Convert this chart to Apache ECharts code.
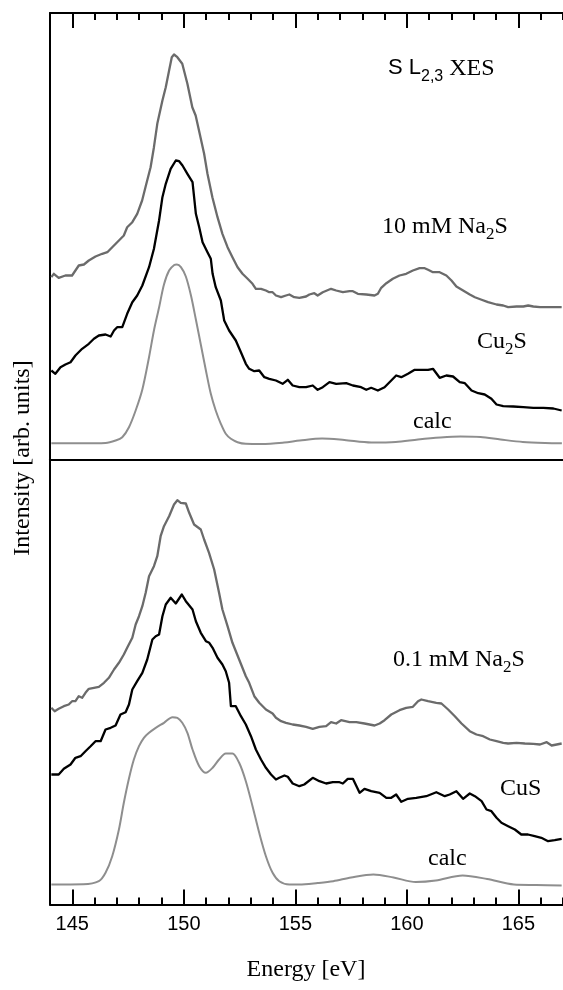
<!DOCTYPE html>
<html><head><meta charset="utf-8">
<script src="https://cdn.jsdelivr.net/npm/echarts@6/dist/echarts.min.js"></script>
<style>html,body{margin:0;padding:0;background:#fff}#c{width:563px;height:990px}</style>
</head><body><div id="c"></div>
<script>
// ---- axis definition ----
const xMin = 144, xMax = 167;
const majorTicks = [145, 150, 155, 160, 165];
const minorTicks = [144,145,146,147,148,149,150,151,152,153,154,155,156,157,158,159,160,161,162,163,164,165,166,167];

// ---- upper panel (arb. units) ----
const na10 = [[144.06,182.3],[144.17,185.7],[144.39,181.7],[144.69,184],[144.99,184],[145.29,194],[145.52,195],[145.74,199],[146.04,203],[146.34,205.7],[146.57,207.3],[146.79,212.3],[147.09,219],[147.31,224],[147.46,232.3],[147.69,237.3],[147.91,245.7],[148.13,259],[148.28,272.3],[148.51,292.3],[148.66,312.3],[148.81,335.7],[149.04,359],[149.19,372.3],[149.34,389],[149.46,402.3],[149.56,405],[149.71,402.3],[149.93,395.7],[150.16,375.7],[150.38,352.3],[150.53,344],[150.68,329],[150.91,305.7],[151.06,285.7],[151.28,262.3],[151.51,242.3],[151.73,225.7],[151.96,212.3],[152.18,202.3],[152.41,192.3],[152.63,185.7],[152.86,180.7],[153.08,175.7],[153.23,170.7],[153.46,170.7],[153.68,169],[153.83,167.3],[153.98,167.3],[154.13,164],[154.36,162.3],[154.58,164],[154.73,165],[154.95,162.3],[155.18,161.7],[155.48,163],[155.63,165],[155.85,166.3],[156.0,164],[156.23,167.3],[156.6,170.7],[156.83,169],[157.13,167.3],[157.43,168.3],[157.58,168.3],[157.8,165.7],[158.18,165],[158.55,164],[158.7,165.7],[158.85,171.7],[159.08,176.3],[159.37,180.7],[159.67,184],[159.97,185.7],[160.27,189],[160.57,191.3],[160.8,191.3],[160.95,189.7],[161.17,187.3],[161.47,187.3],[161.77,184],[162.0,179],[162.22,173],[162.52,169],[162.82,165],[163.05,162.3],[163.35,159.7],[163.64,157.3],[164.02,155],[164.32,154],[164.54,152.3],[164.92,153],[165.22,153],[165.44,154],[165.67,153],[165.97,152.3],[166.27,152.3],[166.57,152.3],[166.94,152.3]];
const cu2s = [[144.06,89],[144.24,85.7],[144.47,92.3],[144.69,95],[144.92,97.3],[145.14,104],[145.44,110.7],[145.74,115.7],[145.97,120.7],[146.19,124],[146.49,125],[146.72,123],[146.87,129],[147.01,132.3],[147.24,132.3],[147.46,145.7],[147.69,157.3],[147.91,164],[148.14,174],[148.44,192.3],[148.66,210.7],[148.89,239],[149.04,262.3],[149.19,275.7],[149.41,290.7],[149.64,299],[149.79,298.3],[149.94,294],[150.16,285.7],[150.39,277.3],[150.54,245.7],[150.69,232.3],[150.84,217.3],[151.06,207.3],[151.21,200.7],[151.29,185.7],[151.43,172.3],[151.66,159],[151.81,139],[152.03,129],[152.33,119],[152.56,107.3],[152.78,95.7],[152.93,90.7],[153.16,88.3],[153.38,89],[153.61,82.3],[153.83,80.7],[154.13,79],[154.43,75.7],[154.66,79.7],[154.88,74],[155.18,72.3],[155.48,72.3],[155.78,74],[156.0,69.7],[156.23,72.3],[156.53,77.3],[156.83,75.7],[157.28,76.3],[157.58,74],[157.95,72.3],[158.18,69.7],[158.4,71.7],[158.7,69],[159.0,72.3],[159.3,79],[159.52,84],[159.75,82.3],[160.05,85.7],[160.35,89.7],[160.65,89.7],[160.95,89.7],[161.17,90.7],[161.47,81.7],[161.77,84],[162.07,83],[162.37,77.3],[162.6,76.3],[162.9,69],[163.2,66.3],[163.49,65],[163.79,60.7],[164.02,55],[164.32,53.3],[164.77,53],[165.22,52.3],[165.67,51.7],[166.12,51.7],[166.57,51],[166.94,49]];
const calcCu2s = [[144.06,16.3],[146.0,16.3],[146.49,16.5],[146.94,19],[147.24,22.3],[147.54,32.3],[147.84,49],[148.14,70],[148.44,102.3],[148.66,129],[148.89,152],[149.11,175],[149.34,189],[149.57,194.5],[149.69,195],[149.87,192.3],[150.09,183],[150.32,164],[150.54,140],[150.77,114],[150.99,89],[151.21,65.7],[151.43,49],[151.66,35.7],[151.88,25.7],[152.11,20.7],[152.41,17.3],[152.78,15.7],[153.5,15.5],[154.5,17],[155.2,19],[156.2,21],[157.2,19.5],[158.4,17],[159.5,17.5],[160.5,20],[161.5,22],[162.4,23],[163.3,22.5],[164.2,20],[165.2,17.5],[166.2,16.5],[166.95,16.3]];

// ---- lower panel (arb. units) ----
const na01 = [[144.06,196.7],[144.21,193.3],[144.39,195.7],[144.62,198.3],[144.84,200],[144.99,203.3],[145.14,203.3],[145.29,208.3],[145.44,206.7],[145.59,211.7],[145.74,215.7],[145.97,216.7],[146.19,217.7],[146.42,221.7],[146.64,226.7],[146.87,235],[147.09,241.7],[147.31,250],[147.46,256.7],[147.69,266.7],[147.84,280],[147.99,288.3],[148.14,298.3],[148.29,311.7],[148.44,328.3],[148.66,338.3],[148.81,348.3],[148.96,368.3],[149.11,378.3],[149.34,388.3],[149.56,400],[149.71,404.3],[149.86,401.7],[150.09,401],[150.24,391.7],[150.46,380],[150.76,375],[150.91,365],[151.13,351.7],[151.36,335],[151.58,311.7],[151.73,295],[151.96,278.3],[152.18,261.7],[152.48,245],[152.78,228.3],[152.93,221.7],[153.16,208.3],[153.38,201.7],[153.68,195],[153.98,191],[154.13,186.7],[154.36,183.3],[154.58,181.7],[154.88,180],[155.18,179],[155.48,177.7],[155.78,175.7],[156.08,177.7],[156.38,178.3],[156.6,182.3],[156.83,181],[157.05,184.3],[157.43,182.3],[157.73,182.3],[158.1,181],[158.55,179],[158.78,181],[159.0,184.3],[159.3,190],[159.67,194.3],[159.97,196.7],[160.27,197.7],[160.5,203.3],[160.65,205],[160.95,203.3],[161.32,201.7],[161.55,201],[161.85,195],[162.15,188.3],[162.45,181],[162.82,173.3],[163.12,170],[163.42,168.3],[163.72,165],[164.02,163.3],[164.32,161.7],[164.54,161],[164.92,161.7],[165.29,161],[165.67,160.7],[165.97,160],[166.27,162.3],[166.49,159],[166.72,160],[166.94,161]];
const cus = [[144.06,130],[144.39,130],[144.62,135.7],[144.92,140],[145.14,146.7],[145.37,148.3],[145.59,153.3],[145.82,158.3],[146.04,163.3],[146.27,163.3],[146.49,175],[146.72,176.7],[146.94,179],[147.16,190],[147.39,192.3],[147.54,200],[147.69,215],[147.91,223.3],[148.14,231.7],[148.36,245],[148.59,265],[148.74,268.3],[148.89,270],[149.04,288.3],[149.19,300],[149.41,306.7],[149.64,301],[149.91,310],[150.09,303.3],[150.39,295],[150.54,283.3],[150.76,271.7],[150.99,263.3],[151.14,261.7],[151.29,256.7],[151.51,246.7],[151.73,240],[151.88,233.3],[152.03,221.7],[152.11,198.3],[152.33,198.3],[152.56,188.3],[152.78,180],[153.01,168.3],[153.23,155],[153.46,145],[153.68,136.7],[153.91,130],[154.13,125],[154.28,126.7],[154.51,129],[154.66,127.7],[154.88,121],[155.18,118.3],[155.4,120],[155.78,126.7],[156.08,123.3],[156.38,121],[156.68,122.3],[156.98,122.3],[157.13,121],[157.35,125.7],[157.58,125.7],[157.88,111.7],[158.1,115.7],[158.4,113.3],[158.78,111.7],[159.08,106.7],[159.3,106.7],[159.52,110],[159.75,102.7],[160.05,105.7],[160.42,106.7],[160.87,108.3],[161.32,112.3],[161.7,108.3],[161.92,110],[162.22,113.3],[162.52,105.7],[162.82,111],[163.05,108.3],[163.35,103.3],[163.57,95],[163.79,93.3],[164.02,86.7],[164.24,81.7],[164.54,78.3],[164.84,75],[165.13,70],[165.43,70],[165.73,68.3],[166.03,66.7],[166.33,63.3],[166.63,64.3],[166.94,65.7]];
const calcCus = [[144.06,20],[145.5,20.2],[146.19,23.3],[146.49,31.7],[146.79,48.3],[147.09,75],[147.31,101.7],[147.54,126],[147.76,145],[147.99,158.3],[148.21,166.7],[148.44,171.7],[148.74,176.7],[149.11,181.7],[149.49,187.3],[149.71,186.7],[149.93,181.7],[150.16,171.7],[150.39,155],[150.69,138.3],[150.99,131.7],[151.29,136.7],[151.58,145],[151.88,151],[152.18,151],[152.48,141.7],[152.78,123.3],[153.08,98.3],[153.38,71.7],[153.68,48.3],[153.98,31.7],[154.28,23.3],[154.73,20],[155.18,20],[156.0,21.5],[156.7,23.3],[157.5,27],[158.5,30],[159.4,27],[160.4,22.5],[161.3,24],[162.5,29],[163.6,25.5],[164.8,20],[165.8,19.5],[166.94,19]];

// ---- layout ----
const L = 50, TOP = 13, MID = 459.5, BOT = 904.5;
const MINOR_LEN = 7, MAJOR_LEN = 15;
const SERIF = '"Liberation Serif", "Times New Roman", serif';
const SANS = '"Liberation Sans", Arial, sans-serif';
const GRAY = '#6b6b6b', CALC = '#8e8e8e';

function frameAxis(grid, pos, labels) {
  return { type: 'value', gridIndex: grid, position: pos, min: xMin, max: xMax,
    axisLine: { show: true, onZero: false, lineStyle: { color: '#000', width: 2 } },
    axisTick: { show: false },
    axisLabel: labels ? { show: true, customValues: majorTicks, margin: 10, color: '#000',
      fontFamily: SANS, fontSize: 20 } : { show: false },
    splitLine: { show: false } };
}
function plainAxis(grid) {
  return { type: 'value', gridIndex: grid, min: xMin, max: xMax,
    axisLine: { show: false }, axisTick: { show: false }, axisLabel: { show: false }, splitLine: { show: false } };
}
function yAxisDef(grid, maxV, showLine) {
  return { type: 'value', gridIndex: grid, min: 0, max: maxV,
    axisLine: { show: showLine, onZero: false, lineStyle: { color: '#000', width: 2 } },
    axisTick: { show: false }, axisLabel: { show: false }, splitLine: { show: false } };
}
function ser(data, xi, yi, color, w) {
  return { type: 'line', data: data, xAxisIndex: xi, yAxisIndex: yi,
    showSymbol: false, symbol: 'none', silent: true,
    lineStyle: { color: color, width: w, join: 'round' }, itemStyle: { color: color } };
}
// tick strip: a grid as tall as the tick; the ticks are vertical mark lines at the tick values
function tickSeries(axisIndex, values) {
  return { type: 'line', xAxisIndex: axisIndex, yAxisIndex: axisIndex, data: [[xMin, 0]],
    showSymbol: false, symbol: 'none', silent: true, lineStyle: { width: 0, opacity: 0 },
    markLine: { silent: true, symbol: ['none', 'none'], animation: false, precision: 4,
      label: { show: false }, emphasis: { disabled: true },
      lineStyle: { color: '#000', width: 2, type: 'solid' },
      data: values.map(function (v) { return { xAxis: v }; }) } };
}

const rich = {
  m: { fontFamily: SERIF, fontSize: 24, lineHeight: 26, fill: '#000', verticalAlign: 'top' },
  s: { fontFamily: SERIF, fontSize: 17, lineHeight: 17, padding: [11, 0, 0, 0], fill: '#000', verticalAlign: 'top' },
  a: { fontFamily: SANS, fontSize: 22, lineHeight: 26, fill: '#000', verticalAlign: 'top' },
  b: { fontFamily: SANS, fontSize: 16, lineHeight: 16, padding: [12, 0, 0, 0], fill: '#000', verticalAlign: 'top' }
};
function label(txt, x, capCenterY) {
  return { type: 'text', x: x, y: capCenterY - 13, silent: true,
    style: { text: txt, rich: rich, align: 'left', verticalAlign: 'top', fill: '#000' } };
}

const option = {
  animation: false,
  backgroundColor: '#fff',
  grid: [
    { left: L, right: 0, top: TOP, height: MINOR_LEN },              // 0 upper minor ticks
    { left: L, right: 0, top: TOP, height: MAJOR_LEN },              // 1 upper major ticks
    { left: L, right: 0, top: BOT - MINOR_LEN, height: MINOR_LEN },  // 2 lower minor ticks
    { left: L, right: 0, top: BOT - MAJOR_LEN, height: MAJOR_LEN },  // 3 lower major ticks
    { left: L, right: 0, top: TOP, height: MID - TOP },              // 4 upper data
    { left: L, right: 0, top: MID, height: BOT - MID }               // 5 lower data
  ],
  xAxis: [
    plainAxis(0), plainAxis(1), plainAxis(2), plainAxis(3),
    frameAxis(4, 'top', false),     // 4 upper frame
    frameAxis(5, 'bottom', true),   // 5 lower frame + labels
    frameAxis(4, 'bottom', false)   // 6 divider
  ],
  yAxis: [
    yAxisDef(0, 1, false), yAxisDef(1, 1, false), yAxisDef(2, 1, false), yAxisDef(3, 1, false),
    yAxisDef(4, MID - TOP, true), yAxisDef(5, BOT - MID, true)
  ],
  series: [
    tickSeries(0, minorTicks),
    tickSeries(1, majorTicks),
    tickSeries(2, minorTicks),
    tickSeries(3, majorTicks),
    ser(na10, 4, 4, GRAY, 2.3),
    ser(cu2s, 4, 4, '#000', 2.3),
    Object.assign(ser(calcCu2s, 4, 4, CALC, 2), { smooth: 0.3 }),
    ser(na01, 5, 5, GRAY, 2.3),
    ser(cus, 5, 5, '#000', 2.3),
    Object.assign(ser(calcCus, 5, 5, CALC, 2), { smooth: 0.3 })
  ],
  graphic: [
    label('{a|S L}{b|2,3}{m| XES}', 388, 70),
    label('{m|10 mM Na}{s|2}{m|S}', 382, 228),
    label('{m|Cu}{s|2}{m|S}', 477, 343),
    label('{m|calc}', 413, 423),
    label('{m|0.1 mM Na}{s|2}{m|S}', 393, 661),
    label('{m|CuS}', 500, 790),
    label('{m|calc}', 428, 860),
    { type: 'text', x: 23, y: 458, rotation: Math.PI / 2, silent: true,
      style: { text: 'Intensity [arb. units]', font: '24px ' + SERIF, fill: '#000', align: 'center', verticalAlign: 'middle' } },
    { type: 'text', x: 306, y: 970, silent: true,
      style: { text: 'Energy [eV]', font: '24px ' + SERIF, fill: '#000', align: 'center', verticalAlign: 'middle' } }
  ]
};
const chart = echarts.init(document.getElementById('c'));
chart.setOption(option);
</script>
</body></html>
